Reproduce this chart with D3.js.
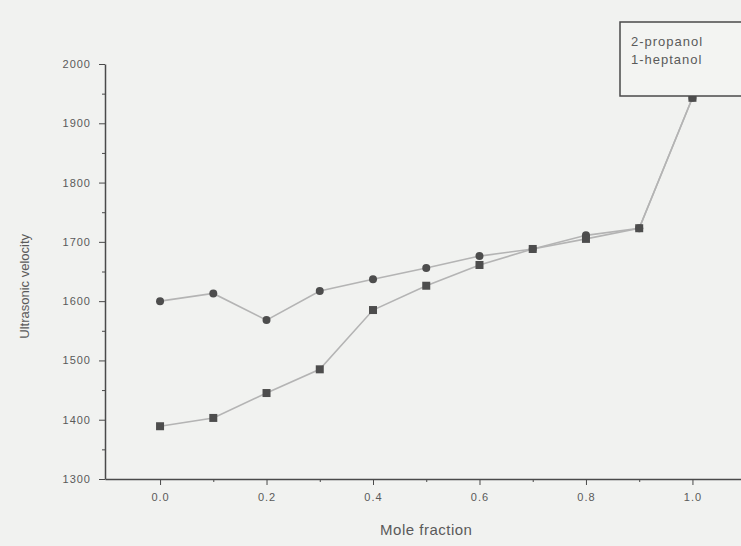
<!DOCTYPE html>
<html>
<head>
<meta charset="utf-8">
<script src="https://cdn.jsdelivr.net/npm/d3@7"></script>
<style>
  body { margin: 0; background: #f1f2f0; }
  svg { display: block; font-family: "Liberation Sans", Arial, sans-serif; }
</style>
</head>
<body>
<div id="chart"></div>
<script>
// Data
const moleFraction = [0.0, 0.1, 0.2, 0.3, 0.4, 0.5, 0.6, 0.7, 0.8, 0.9, 1.0];
const propanolVelocity = [1600, 1613, 1568, 1617, 1637, 1656, 1676, 1688, 1711, 1723, 1943];
const heptanolVelocity = [1389, 1403, 1445, 1485, 1585, 1626, 1661, 1688, 1705, 1723, 1943];
const seriesNames = ["2-propanol", "1-heptanol"];
const xTicks = [0.0, 0.2, 0.4, 0.6, 0.8, 1.0];
const yTicks = [1300, 1400, 1500, 1600, 1700, 1800, 1900, 2000];

const totalWidth = 741, totalHeight = 546;
const margin = {top: 64, right: 0, bottom: 67, left: 105};
const width = totalWidth - margin.left - margin.right;
const height = totalHeight - margin.top - margin.bottom;

const svg = d3.select("#chart").append("svg")
    .attr("width", totalWidth)
    .attr("height", totalHeight);

const g = svg.append("g")
    .attr("transform", `translate(${margin.left},${margin.top})`);

// Scales: 0.0 sits at x=160, 1.0 at x=692
const xScale = d3.scaleLinear()
    .domain([-0.1034, 1.0912])
    .range([0, width]);

const yScale = d3.scaleLinear()
    .domain([1300, 2000])
    .range([height, 0]);

const axisColor = "#4a4a4a";
const textColor = "#5a5a5a";

// Minor ticks
g.append("g")
    .attr("transform", `translate(0,${height})`)
    .call(d3.axisBottom(xScale).tickValues(d3.range(0.1, 1.01, 0.2)).tickSize(3).tickFormat(""))
    .call(a => a.select(".domain").remove());

g.append("g")
    .call(d3.axisLeft(yScale).tickValues(d3.range(1350, 2000, 100)).tickSize(3).tickFormat(""))
    .call(a => a.select(".domain").remove());

// Major axes
g.append("g")
    .attr("transform", `translate(0,${height})`)
    .call(d3.axisBottom(xScale).tickValues(xTicks).tickSize(6).tickSizeOuter(0).tickPadding(8)
        .tickFormat(d3.format(".1f")));

g.append("g")
    .call(d3.axisLeft(yScale).tickValues(yTicks).tickSize(6).tickSizeOuter(0).tickPadding(8)
        .tickFormat(d3.format("d")));

g.selectAll(".tick line").attr("stroke", axisColor);
g.selectAll(".domain").attr("stroke", axisColor).attr("stroke-width", 1.5);
g.selectAll(".tick text")
    .attr("fill", textColor)
    .style("font-size", "11px")
    .style("letter-spacing", "1px");

// Axis labels
g.append("text")
    .attr("x", xScale(0.5))
    .attr("y", height + 56)
    .attr("text-anchor", "middle")
    .attr("fill", textColor)
    .style("font-size", "15px")
    .style("letter-spacing", "0.5px")
    .text("Mole fraction");

g.append("text")
    .attr("transform", "rotate(-90)")
    .attr("x", -yScale(1625))
    .attr("y", -76)
    .attr("text-anchor", "middle")
    .attr("fill", textColor)
    .style("font-size", "13px")
    .text("Ultrasonic velocity");

// Lines
const line = d3.line()
    .x((d, i) => xScale(moleFraction[i]))
    .y(d => yScale(d));

[propanolVelocity, heptanolVelocity].forEach(values => {
    g.append("path")
        .datum(values)
        .attr("d", line)
        .attr("fill", "none")
        .attr("stroke", "#b4b4b4")
        .attr("stroke-width", 1.6);
});

// Markers
g.selectAll(".circle-pt")
    .data(propanolVelocity)
    .enter()
    .append("circle")
    .attr("class", "circle-pt")
    .attr("cx", (d, i) => xScale(moleFraction[i]))
    .attr("cy", d => yScale(d))
    .attr("r", 4)
    .attr("fill", "#4d4d4d");

g.selectAll(".square-pt")
    .data(heptanolVelocity)
    .enter()
    .append("rect")
    .attr("class", "square-pt")
    .attr("x", (d, i) => xScale(moleFraction[i]) - 4)
    .attr("y", d => yScale(d) - 4)
    .attr("width", 8)
    .attr("height", 8)
    .attr("fill", "#4d4d4d");

// Legend box (runs off the right edge)
const legend = svg.append("g")
    .attr("transform", "translate(620,22)");

legend.append("rect")
    .attr("width", 140)
    .attr("height", 74)
    .attr("fill", "#f3f4f2")
    .attr("stroke", "#4a4a4a")
    .attr("stroke-width", 1.5);

seriesNames.forEach((name, i) => {
    legend.append("text")
        .attr("x", 11)
        .attr("y", 24 + i * 18)
        .attr("fill", textColor)
        .style("font-size", "13px")
        .style("letter-spacing", "1px")
        .text(name);
});
</script>
</body>
</html>
